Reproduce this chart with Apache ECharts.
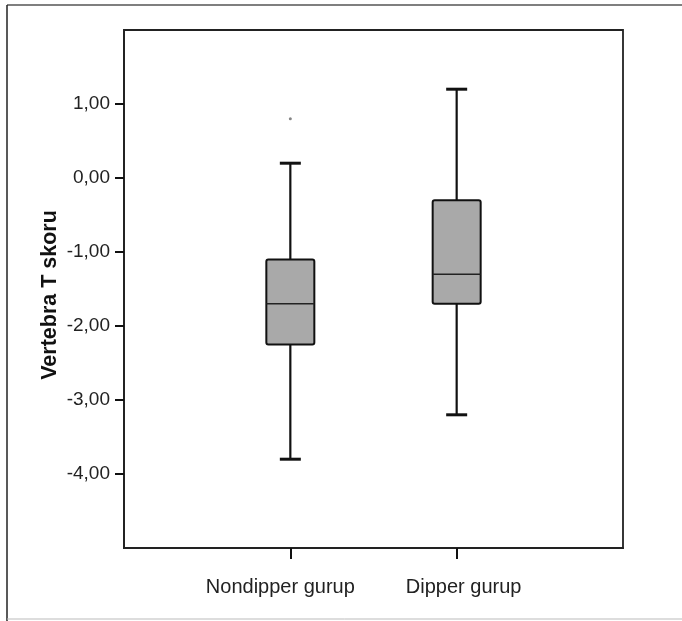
<!DOCTYPE html>
<html>
<head>
<meta charset="utf-8">
<script src="https://cdn.jsdelivr.net/npm/echarts@6/dist/echarts.min.js"></script>
<style>html,body{margin:0;padding:0;background:#fff;}#c{width:682px;height:621px;}</style>
</head>
<body>
<div id="c"></div>
<script>
// Data
const categories = ['', 'Nondipper gurup', 'Dipper gurup', ''];
const boxGroups = ['Nondipper gurup', 'Dipper gurup'];
const lowerWhisker = [-3.8, -3.2];
const q1 = [-2.25, -1.7];
const median = [-1.7, -1.3];
const q3 = [-1.1, -0.3];
const upperWhisker = [0.2, 1.2];
const outliers = [['Nondipper gurup', 0.8]];
const yTicks = [-4, -3, -2, -1, 0, 1];
const yMin = -5, yMax = 2;
const yTitle = 'Vertebra T skoru';

const boxData = boxGroups.map((g, i) => [g, lowerWhisker[i], q1[i], median[i], q3[i], upperWhisker[i]]);

// label nudges (style only), keyed by category
const labelPadding = {'Nondipper gurup': [0, 20, 0, 0], 'Dipper gurup': [0, 0, 0, 14]};
const axisData = categories.map(c => labelPadding[c] ? {value: c, textStyle: {padding: labelPadding[c]}} : c);

const chart = echarts.init(document.getElementById('c'), null, {renderer: 'canvas'});
const FONT = 'Liberation Sans, Arial, sans-serif';

function renderBox(params, api) {
  const x = api.value(0);
  const pLow = api.coord([x, api.value(1)]);
  const pQ1 = api.coord([x, api.value(2)]);
  const pMed = api.coord([x, api.value(3)]);
  const pQ3 = api.coord([x, api.value(4)]);
  const pHigh = api.coord([x, api.value(5)]);
  const cx = pMed[0];
  const bw = 48, cw = 21;
  const stroke = '#111';
  return {
    type: 'group',
    children: [
      {type: 'line', shape: {x1: cx, y1: pHigh[1], x2: cx, y2: pQ3[1]}, style: {stroke: stroke, lineWidth: 2.2}},
      {type: 'line', shape: {x1: cx, y1: pQ1[1], x2: cx, y2: pLow[1]}, style: {stroke: stroke, lineWidth: 2.2}},
      {type: 'line', shape: {x1: cx - cw / 2, y1: pHigh[1], x2: cx + cw / 2, y2: pHigh[1]}, style: {stroke: stroke, lineWidth: 3}},
      {type: 'line', shape: {x1: cx - cw / 2, y1: pLow[1], x2: cx + cw / 2, y2: pLow[1]}, style: {stroke: stroke, lineWidth: 3}},
      {type: 'rect', shape: {x: cx - bw / 2, y: pQ3[1], width: bw, height: pQ1[1] - pQ3[1], r: 2},
        style: {fill: '#a9a9a9', stroke: stroke, lineWidth: 2}},
      {type: 'line', shape: {x1: cx - bw / 2, y1: pMed[1], x2: cx + bw / 2, y2: pMed[1]}, style: {stroke: '#222', lineWidth: 1.5}}
    ]
  };
}

chart.setOption({
  animation: false,
  backgroundColor: '#fff',
  grid: {left: 124, top: 30, right: 59, bottom: 73, show: true, borderColor: '#222', borderWidth: 1.8, backgroundColor: 'transparent'},
  graphic: [
    {type: 'line', shape: {x1: 7, y1: 5, x2: 682, y2: 5}, style: {stroke: '#555', lineWidth: 1.5}, z: 100},
    {type: 'line', shape: {x1: 7, y1: 5, x2: 7, y2: 621}, style: {stroke: '#222', lineWidth: 1.5}, z: 100},
    {type: 'line', shape: {x1: 7, y1: 619, x2: 682, y2: 619}, style: {stroke: '#bbb', lineWidth: 1}, z: 100}
  ],
  xAxis: {
    type: 'category',
    data: axisData,
    boundaryGap: false,
    axisLine: {show: true, onZero: false, lineStyle: {color: '#222', width: 1.8}},
    axisTick: {show: true, length: 11, lineStyle: {color: '#111', width: 2},
      interval: function (idx, val) { return val !== ''; }},
    axisLabel: {show: true, margin: 29, color: '#222', fontFamily: FONT, fontSize: 20,
      interval: function (idx, val) { return val !== ''; }},
    splitLine: {show: false}
  },
  yAxis: {
    type: 'value',
    min: yMin, max: yMax, interval: 1,
    name: yTitle,
    nameLocation: 'middle',
    nameGap: 63,
    nameMoveOverlap: false,
    nameRotate: 90,
    nameTextStyle: {fontFamily: FONT, fontSize: 21.5, fontWeight: 'bold', color: '#111', padding: [0, 12, 0, 0]},
    axisLine: {show: true, lineStyle: {color: '#222', width: 1.8}},
    axisTick: {show: true, length: 9, customValues: yTicks, lineStyle: {color: '#111', width: 2}},
    axisLabel: {show: true, margin: 14, customValues: yTicks, color: '#222', fontFamily: FONT, fontSize: 19,
      formatter: function (v) { return v.toFixed(2).replace('.', ','); }},
    splitLine: {show: false}
  },
  series: [
    {
      type: 'custom',
      renderItem: renderBox,
      encode: {x: 0, y: [1, 2, 3, 4, 5]},
      data: boxData,
      z: 5
    },
    {
      type: 'scatter',
      data: outliers,
      symbol: 'circle',
      symbolSize: 3,
      itemStyle: {color: '#666'},
      z: 6
    }
  ]
});
</script>
</body>
</html>
